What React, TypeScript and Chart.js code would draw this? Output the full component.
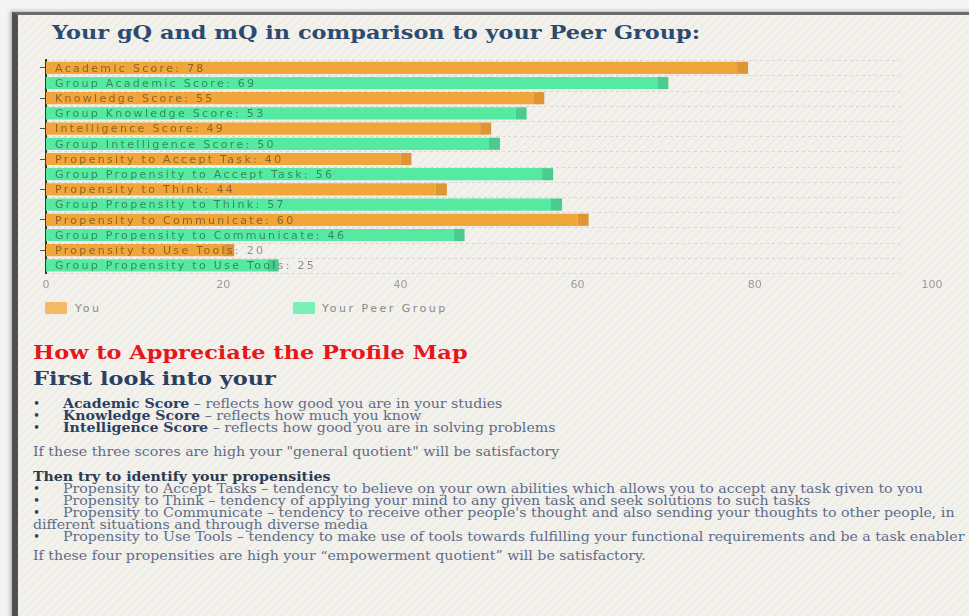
import React, { useEffect, useRef } from "react";
import { Chart, registerables } from "chart.js";

Chart.register(...registerables);

const categories = [
  "Academic Score",
  "Group Academic Score",
  "Knowledge Score",
  "Group Knowledge Score",
  "Intelligence Score",
  "Group Intelligence Score",
  "Propensity to Accept Task",
  "Group Propensity to Accept Task",
  "Propensity to Think",
  "Group Propensity to Think",
  "Propensity to Communicate",
  "Group Propensity to Communicate",
  "Propensity to Use Tools",
  "Group Propensity to Use Tools",
];
const youValues: (number | null)[] = [78, null, 55, null, 49, null, 40, null, 44, null, 60, null, 20, null];
const peerValues: (number | null)[] = [null, 69, null, 53, null, 50, null, 56, null, 57, null, 46, null, 25];
const seriesNames = ["You", "Your Peer Group"];
const xTicks = [0, 20, 40, 60, 80, 100];

const ORANGE = "rgb(240,166,58)";
const ORANGE_END = "rgb(222,150,52)";
const GREEN = "rgb(86,233,162)";
const GREEN_END = "rgb(74,204,142)";

const SANS = "'DejaVu Sans', Verdana, sans-serif";
const SERIF = "'DejaVu Serif', Georgia, serif";

const barLabelPlugin = {
  id: "barLabels",
  beforeDatasetsDraw(chart: any) {
    const { ctx, chartArea, scales } = chart;
    const y = scales.y;
    const n = categories.length;
    const pitch = n > 1 ? (y.getPixelForValue(1) - y.getPixelForValue(0)) : 0;
    ctx.save();
    ctx.strokeStyle = "rgba(0,0,0,0.10)";
    ctx.lineWidth = 1;
    ctx.setLineDash([3, 3]);
    for (let i = 0; i <= n; i++) {
      const py = Math.round(y.getPixelForValue(i) - pitch / 2) + 0.5;
      ctx.beginPath();
      ctx.moveTo(chartArea.left, py);
      ctx.lineTo(chartArea.right - 32, py);
      ctx.stroke();
    }
    ctx.restore();
  },
  afterDatasetsDraw(chart: any) {
    const { ctx, chartArea } = chart;
    ctx.save();
    chart.data.datasets.forEach((ds: any, di: number) => {
      const meta = chart.getDatasetMeta(di);
      meta.data.forEach((el: any, i: number) => {
        const v = ds.data[i];
        if (v === null || v === undefined) return;
        const h = el.height;
        ctx.fillStyle = di === 0 ? ORANGE_END : GREEN_END;
        ctx.fillRect(el.x, el.y - h / 2, 11, h);
      });
    });
    ctx.font = `11px ${SANS}`;
    (ctx as any).letterSpacing = "2.3px";
    ctx.textBaseline = "middle";
    ctx.textAlign = "left";
    ctx.fillStyle = "rgba(0,0,0,0.42)";
    chart.data.datasets.forEach((ds: any, di: number) => {
      const meta = chart.getDatasetMeta(di);
      meta.data.forEach((el: any, i: number) => {
        const v = ds.data[i];
        if (v === null || v === undefined) return;
        ctx.fillText(`${categories[i]}: ${v}`, chartArea.left + 9, el.y + 1);
      });
    });
    ctx.restore();
  },
};

function BarChart() {
  const ref = useRef<HTMLCanvasElement | null>(null);
  useEffect(() => {
    if (!ref.current) return;
    const chart = new Chart(ref.current, {
      type: "bar",
      data: {
        labels: categories,
        datasets: [
          { label: seriesNames[0], data: youValues, backgroundColor: ORANGE, borderWidth: 0 },
          { label: seriesNames[1], data: peerValues, backgroundColor: GREEN, borderWidth: 0 },
        ],
      },
      options: {
        indexAxis: "y",
        animation: false,
        responsive: true,
        maintainAspectRatio: false,
        layout: { padding: { left: 0, right: 37, top: 10, bottom: 0 } },
        datasets: { bar: { barPercentage: 0.8, categoryPercentage: 1 } },
        plugins: { legend: { display: false }, tooltip: { enabled: false } },
        scales: {
          x: {
            stacked: true,
            min: 0,
            max: 100,
            afterFit: (s: any) => { s.height = 27; },
            afterBuildTicks: (s: any) => { s.ticks = xTicks.map((v) => ({ value: v })); },
            grid: { display: false, drawTicks: false },
            border: { display: false },
            ticks: { color: "#9a9a9a", padding: 6, font: { family: SANS, size: 11 } },
          },
          y: {
            stacked: true,
            afterFit: (s: any) => { s.width = 46; },
            grid: { display: true, offset: false, drawOnChartArea: false, drawTicks: true, tickLength: 6, color: "#555" },
            border: { display: true, color: "#333", width: 2 },
            ticks: { display: true, callback: () => "" },
          },
        },
      },
      plugins: [barLabelPlugin],
    } as any);
    return () => chart.destroy();
  }, []);
  return <canvas ref={ref} />;
}

const STRETCH = 1.18;

const lineStyle = (left: number, cy: number, lh: number, extra: React.CSSProperties = {}, stretch = STRETCH): React.CSSProperties => ({
  position: "absolute",
  left,
  top: cy - lh / 2,
  lineHeight: `${lh}px`,
  whiteSpace: "nowrap",
  transform: `scaleX(${stretch})`,
  transformOrigin: "left center",
  ...extra,
});

const NAVY = "#2b3f63";
const BODY = "#5d6c8a";

export default function App() {
  useEffect(() => {
    document.body.style.margin = "0";
  }, []);
  const bullet = (cy: number, bold: string | null, rest: string) => (
    <React.Fragment key={cy}>
      <div style={lineStyle(33, cy, 12, { fontFamily: SERIF, fontSize: 12, color: NAVY }, 1)}>•</div>
      <div style={lineStyle(63, cy, 12, { fontFamily: SERIF, fontSize: 12, color: BODY })}>
        {bold ? <b style={{ color: NAVY }}>{bold}</b> : null}
        {rest}
      </div>
    </React.Fragment>
  );
  return (
    <div style={{ position: "fixed", left: 0, top: 0, width: 969, height: 616, overflow: "hidden", background: "#f4f4f4" }}>
      <div
        style={{
          position: "absolute",
          left: 12,
          top: 12,
          width: 1000,
          height: 660,
          borderLeft: "6px solid #505050",
          borderTop: "3px solid #6a6a6a",
          boxShadow: "-2px -1px 4px rgba(0,0,0,0.25)",
          background: "repeating-linear-gradient(135deg, #f3f1ec 0px, #f3f1ec 4px, #ebe8e1 5px, #f3f1ec 6px)",
        }}
      />
      <div style={lineStyle(52, 32, 24, { fontFamily: SERIF, fontWeight: "bold", fontSize: 19, color: "#2c4a70" })}>
        Your gQ and mQ in comparison to your Peer Group:
      </div>
      <div style={{ position: "absolute", left: 0, top: 50, width: 969, height: 250 }}>
        <BarChart />
      </div>
      <div style={{ position: "absolute", left: 45, top: 302, width: 22, height: 12, background: "rgba(244,186,104,1)" }} />
      <div style={lineStyle(75, 309, 14, { fontFamily: SANS, fontSize: 11, color: "#888", letterSpacing: "2.5px" }, 1)}>{seriesNames[0]}</div>
      <div style={{ position: "absolute", left: 293, top: 302, width: 22, height: 12, background: "rgba(122,240,184,1)" }} />
      <div style={lineStyle(322, 309, 14, { fontFamily: SANS, fontSize: 11, color: "#888", letterSpacing: "2.5px" }, 1)}>{seriesNames[1]}</div>

      <div style={lineStyle(33, 352, 22, { fontFamily: SERIF, fontWeight: "bold", fontSize: 19, color: "#e5161c" })}>
        How to Appreciate the Profile Map
      </div>
      <div style={lineStyle(33, 378, 22, { fontFamily: SERIF, fontWeight: "bold", fontSize: 19, color: NAVY })}>
        First look into your
      </div>
      {bullet(404, "Academic Score", " – reflects how good you are in your studies")}
      {bullet(416, "Knowledge Score", " – reflects how much you know")}
      {bullet(428, "Intelligence Score", " – reflects how good you are in solving problems")}
      <div style={lineStyle(33, 452, 12, { fontFamily: SERIF, fontSize: 12, color: BODY })}>
        If these three scores are high your "general quotient" will be satisfactory
      </div>
      <div style={lineStyle(33, 477, 12, { fontFamily: SERIF, fontSize: 12, fontWeight: "bold", color: "#2b3a52" })}>
        Then try to identify your propensities
      </div>
      {bullet(489, null, "Propensity to Accept Tasks – tendency to believe on your own abilities which allows you to accept any task given to you")}
      {bullet(501, null, "Propensity to Think – tendency of applying your mind to any given task and seek solutions to such tasks")}
      {bullet(513, null, "Propensity to Communicate – tendency to receive other people's thought and also sending your thoughts to other people, in")}
      <div style={lineStyle(33, 525, 12, { fontFamily: SERIF, fontSize: 12, color: BODY })}>
        different situations and through diverse media
      </div>
      {bullet(537, null, "Propensity to Use Tools – tendency to make use of tools towards fulfilling your functional requirements and be a task enabler")}
      <div style={lineStyle(33, 556, 12, { fontFamily: SERIF, fontSize: 12, color: BODY })}>
        If these four propensities are high your “empowerment quotient” will be satisfactory.
      </div>
    </div>
  );
}
